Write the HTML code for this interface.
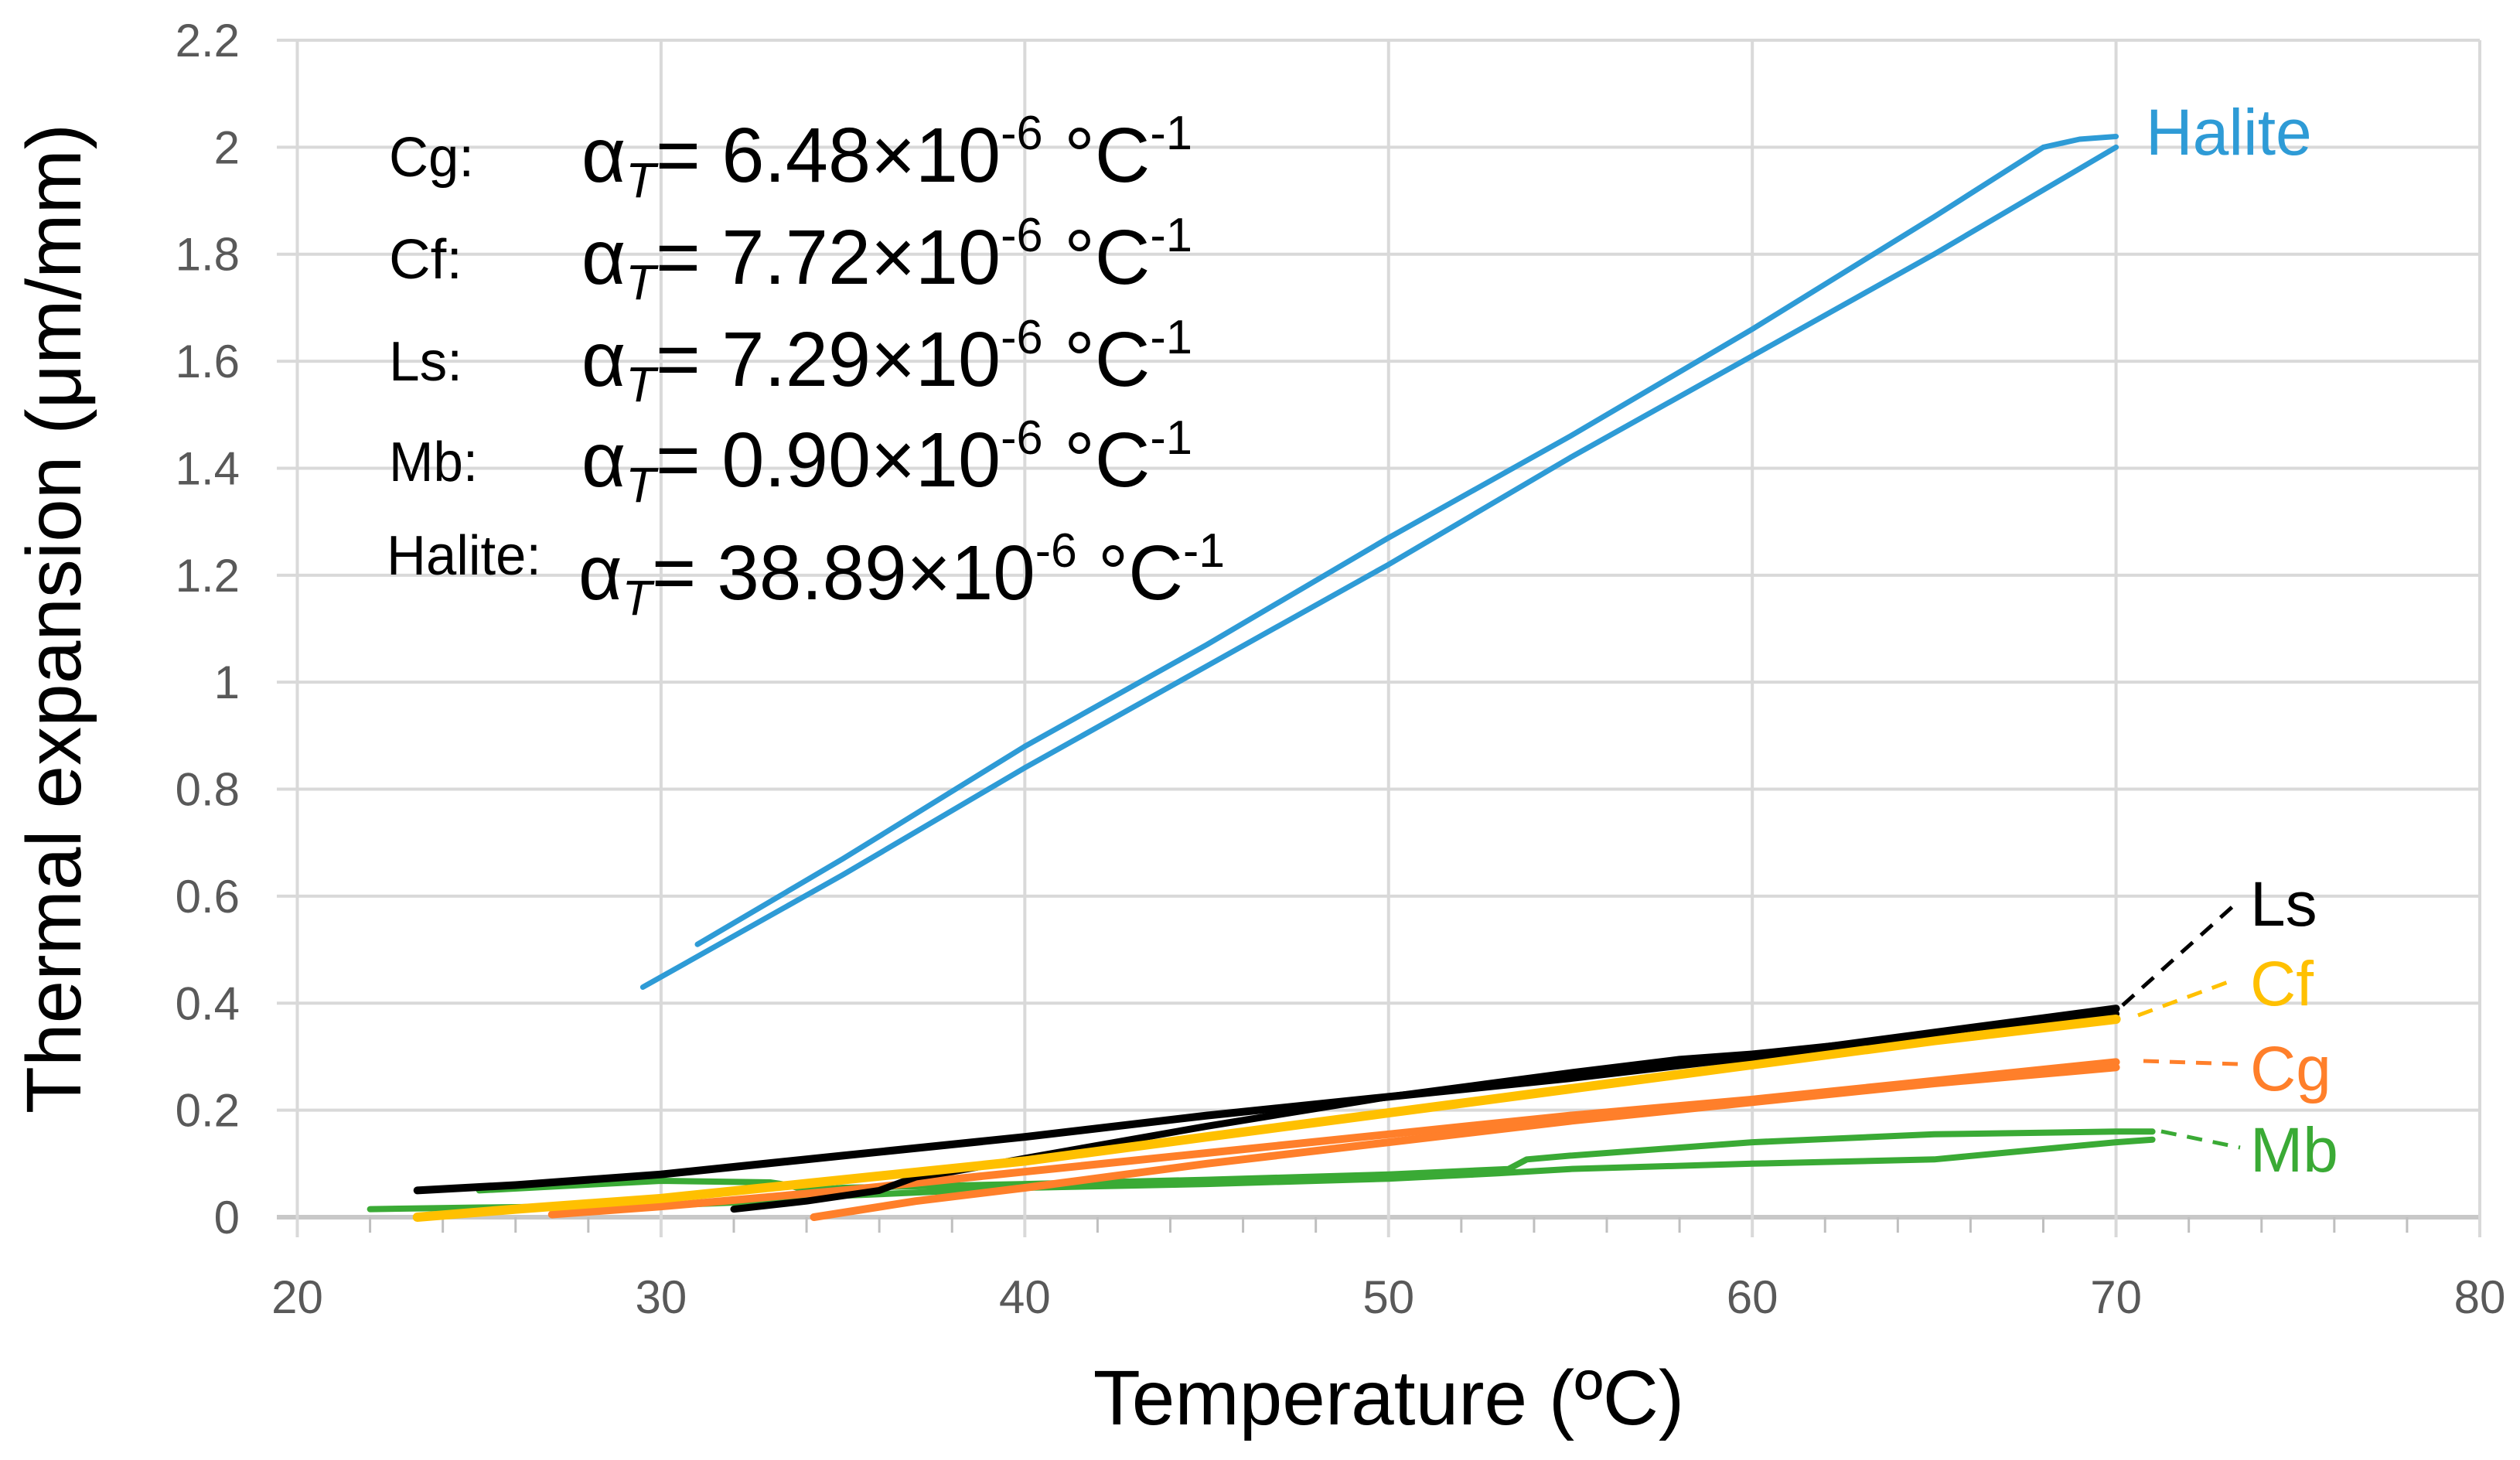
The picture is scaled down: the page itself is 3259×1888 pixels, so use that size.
<!DOCTYPE html>
<html><head><meta charset="utf-8"><style>
html,body{margin:0;padding:0;background:#fff;}
svg{display:block;font-family:"Liberation Sans",Arial,sans-serif;}
</style></head><body>
<svg id="chart" width="3259" height="1888" viewBox="0 0 3259 1888" xmlns="http://www.w3.org/2000/svg">
<g id="grid"></g>
<g id="axes"></g>
<g id="series"></g>
<text transform="translate(104,800) rotate(-90)" text-anchor="middle" font-size="100" fill="#000">Thermal expansion (μm/mm)</text>
<text x="1796" y="1842" text-anchor="middle" font-size="100" fill="#000">Temperature (ºC)</text>
<g fill="#000">
<text x="503" y="228" font-size="72" textLength="110" lengthAdjust="spacingAndGlyphs">Cg:</text>
<text x="752" y="235" font-size="100" textLength="790" lengthAdjust="spacingAndGlyphs">α<tspan font-style="italic" font-size="64" dy="20">T</tspan><tspan dy="-20">= 6.48×10</tspan><tspan font-size="62" dy="-42">-6</tspan><tspan dy="42"> °C</tspan><tspan font-size="62" dy="-42">-1</tspan></text>
<text x="503" y="360" font-size="72" textLength="95" lengthAdjust="spacingAndGlyphs">Cf:</text>
<text x="752" y="367" font-size="100" textLength="790" lengthAdjust="spacingAndGlyphs">α<tspan font-style="italic" font-size="64" dy="20">T</tspan><tspan dy="-20">= 7.72×10</tspan><tspan font-size="62" dy="-42">-6</tspan><tspan dy="42"> °C</tspan><tspan font-size="62" dy="-42">-1</tspan></text>
<text x="503" y="492" font-size="72" textLength="95" lengthAdjust="spacingAndGlyphs">Ls:</text>
<text x="752" y="499" font-size="100" textLength="790" lengthAdjust="spacingAndGlyphs">α<tspan font-style="italic" font-size="64" dy="20">T</tspan><tspan dy="-20">= 7.29×10</tspan><tspan font-size="62" dy="-42">-6</tspan><tspan dy="42"> °C</tspan><tspan font-size="62" dy="-42">-1</tspan></text>
<text x="503" y="622" font-size="72" textLength="115" lengthAdjust="spacingAndGlyphs">Mb:</text>
<text x="752" y="629" font-size="100" textLength="790" lengthAdjust="spacingAndGlyphs">α<tspan font-style="italic" font-size="64" dy="20">T</tspan><tspan dy="-20">= 0.90×10</tspan><tspan font-size="62" dy="-42">-6</tspan><tspan dy="42"> °C</tspan><tspan font-size="62" dy="-42">-1</tspan></text>
<text x="500" y="743" font-size="72" textLength="200" lengthAdjust="spacingAndGlyphs">Halite:</text>
<text x="748" y="775" font-size="100" textLength="836" lengthAdjust="spacingAndGlyphs">α<tspan font-style="italic" font-size="64" dy="20">T</tspan><tspan dy="-20">= 38.89×10</tspan><tspan font-size="62" dy="-42">-6</tspan><tspan dy="42"> °C</tspan><tspan font-size="62" dy="-42">-1</tspan></text>
</g>
<g>
<text x="2775" y="200" font-size="84" fill="#2e9bd6">Halite</text>
<text x="2910" y="1197" font-size="82" fill="#000">Ls</text>
<text x="2910" y="1300" font-size="82" fill="#ffc000">Cf</text>
<text x="2910" y="1410" font-size="82" fill="#ff7f2a">Cg</text>
<text x="2910" y="1515" font-size="82" fill="#3aaa35">Mb</text>
<line x1="2745" y1="1300" x2="2890" y2="1170" stroke="#000" stroke-width="5" stroke-dasharray="20,14"/>
<line x1="2765" y1="1313" x2="2892" y2="1266" stroke="#ffc000" stroke-width="5" stroke-dasharray="20,14"/>
<line x1="2772" y1="1372" x2="2895" y2="1376" stroke="#ff7f2a" stroke-width="5" stroke-dasharray="20,14"/>
<line x1="2795" y1="1463" x2="2897" y2="1484" stroke="#3aaa35" stroke-width="5" stroke-dasharray="20,14"/>
</g>
</svg>
<script>
const xTicks=[20,30,40,50,60,70,80];
const yTicks=[0,0.2,0.4,0.6,0.8,1,1.2,1.4,1.6,1.8,2,2.2];
const yTickLabels=["0","0.2","0.4","0.6","0.8","1","1.2","1.4","1.6","1.8","2","2.2"];
const haliteHeatT=[29.5,35,40,45,50,55,60,65,68,70];
const haliteHeatV=[0.43,0.64,0.84,1.03,1.22,1.42,1.61,1.80,1.92,2.00];
const haliteCoolT=[70,69,68,65,60,55,50,45,40,35,31];
const haliteCoolV=[2.02,2.015,2.00,1.87,1.66,1.46,1.27,1.07,0.88,0.67,0.51];
const lsUpT=[23.3,26,30,35,40,45,50,55,60,65,70];
const lsUpV=[0.05,0.06,0.08,0.115,0.15,0.19,0.225,0.26,0.30,0.345,0.39];
const lsLowT=[32,34,36,37,38,40,45,50,55,58,60,65,70];
const lsLowV=[0.015,0.03,0.05,0.075,0.085,0.11,0.17,0.225,0.27,0.295,0.305,0.34,0.38];
const cfT=[23.3,26,30,35,40,45,50,55,60,65,70];
const cfV=[0.0,0.015,0.035,0.07,0.105,0.15,0.195,0.24,0.285,0.33,0.37];
const cgUpT=[27,30,35,40,45,50,55,60,65,70];
const cgUpV=[0.005,0.02,0.05,0.085,0.12,0.155,0.19,0.22,0.255,0.29];
const cgLowT=[34.2,37,40,45,50,55,60,65,70];
const cgLowV=[0.0,0.03,0.055,0.1,0.14,0.18,0.215,0.25,0.28];
const mbLowT=[22,25,30,33,35,40,45,50,53,55,60,65,70,71];
const mbLowV=[0.015,0.018,0.022,0.03,0.04,0.055,0.062,0.072,0.082,0.09,0.1,0.108,0.14,0.145];
const mbUpT=[71,70,65,60,55,53.8,53.3,50,45,40,35,34,33.5,33,30,25];
const mbUpV=[0.16,0.16,0.155,0.14,0.115,0.108,0.09,0.08,0.07,0.062,0.055,0.05,0.06,0.065,0.068,0.05];

const X0=384.5,X1=3207,Y0=1574,Y1=52;
function sx(t){return X0+(t-20)/(80-20)*(X1-X0);}
function sy(v){return Y0-(v/2.2)*(Y0-Y1);}
const NS="http://www.w3.org/2000/svg";
const grid=document.getElementById('grid'),axes=document.getElementById('axes'),ser=document.getElementById('series');
function mk(tag,attrs,parent){const e=document.createElementNS(NS,tag);for(const k in attrs)e.setAttribute(k,attrs[k]);parent.appendChild(e);return e;}
yTicks.forEach((v,i)=>{
  const l=mk('line',{x1:358,x2:X1,y1:sy(v),y2:sy(v),stroke:v===0?'#c8c8c8':'#d9d9d9','stroke-width':v===0?6:4},grid);
  
  
  const t=mk('text',{x:310,y:sy(v)+21,'text-anchor':'end','font-size':60,fill:'#595959'},axes);
  t.textContent=yTickLabels[i];
  
  
});
xTicks.forEach(v=>{
  const l=mk('line',{x1:sx(v),x2:sx(v),y1:Y1,y2:1600,stroke:'#d9d9d9','stroke-width':4},grid);
  
  
  const t=mk('text',{x:sx(v),y:1698,'text-anchor':'middle','font-size':60,fill:'#595959'},axes);
  t.textContent=String(v);
  
  
});
for(let v=22;v<80;v+=2){ if(v%10===0)continue;
  const l=mk('line',{x1:sx(v),x2:sx(v),y1:Y0,y2:1594,stroke:'#bfbfbf','stroke-width':3},axes);
  
  
}
function line(T,V,color,w,name){
  const d=T.map((t,i)=>(i?'L':'M')+sx(t).toFixed(1)+' '+sy(V[i]).toFixed(1)).join(' ');
  const p=mk('path',{d:d,fill:'none',stroke:color,'stroke-width':w,'stroke-linejoin':'round','stroke-linecap':'round'},ser);
  
  
}
line(mbLowT,mbLowV,'#3aaa35',8,'mb-heating-line');
line(mbUpT,mbUpV,'#3aaa35',8,'mb-cooling-line');
line(cgUpT,cgUpV,'#ff7f2a',10,'cg-upper-line');
line(cgLowT,cgLowV,'#ff7f2a',10,'cg-lower-line');
line(lsLowT,lsLowV,'#000',9,'ls-lower-line');
line(cfT,cfV,'#ffc000',12,'cf-line');
line(lsUpT,lsUpV,'#000',10,'ls-upper-line');
line(haliteHeatT,haliteHeatV,'#2e9bd6',7,'halite-heating-line');
line(haliteCoolT,haliteCoolV,'#2e9bd6',7,'halite-cooling-line');
</script>
</body></html>
